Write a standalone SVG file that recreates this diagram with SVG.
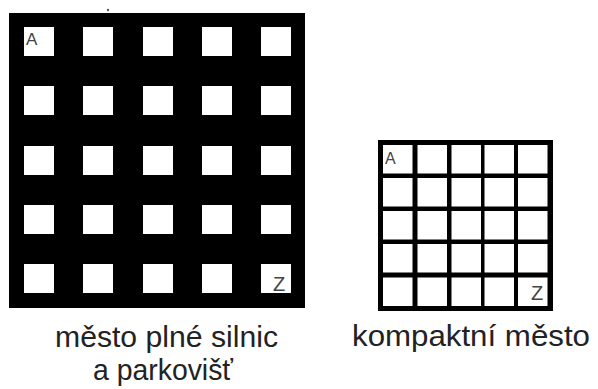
<svg xmlns="http://www.w3.org/2000/svg" width="598" height="389" viewBox="0 0 598 389">
<style>
.cell{fill:#fff}
.lbl{font-family:"Liberation Sans",Arial,sans-serif;fill:#444}
.cap{font-family:"Liberation Sans",Arial,sans-serif;font-size:29px;fill:#222;text-anchor:middle}
</style>
<rect width="598" height="389" fill="#fff"/>
<circle cx="108" cy="10" r="1.2" fill="#557"/>
<g id="big-grid">
<rect x="9" y="13" width="296" height="295" fill="#000"/>
<g class="cell">
<rect x="24" y="27" width="30" height="29"/><rect x="83" y="27" width="30" height="29"/><rect x="143" y="27" width="30" height="29"/><rect x="202" y="27" width="30" height="29"/><rect x="261" y="27" width="30" height="29"/>
<rect x="24" y="86" width="30" height="29"/><rect x="83" y="86" width="30" height="29"/><rect x="143" y="86" width="30" height="29"/><rect x="202" y="86" width="30" height="29"/><rect x="261" y="86" width="30" height="29"/>
<rect x="24" y="146" width="30" height="29"/><rect x="83" y="146" width="30" height="29"/><rect x="143" y="146" width="30" height="29"/><rect x="202" y="146" width="30" height="29"/><rect x="261" y="146" width="30" height="29"/>
<rect x="24" y="205" width="30" height="29"/><rect x="83" y="205" width="30" height="29"/><rect x="143" y="205" width="30" height="29"/><rect x="202" y="205" width="30" height="29"/><rect x="261" y="205" width="30" height="29"/>
<rect x="24" y="264" width="30" height="29"/><rect x="83" y="264" width="30" height="29"/><rect x="143" y="264" width="30" height="29"/><rect x="202" y="264" width="30" height="29"/><rect x="261" y="264" width="30" height="29"/>
</g>
<text class="lbl" x="26" y="45" font-size="17">A</text>
<text class="lbl" x="273" y="291" font-size="20">Z</text>
</g>
<g id="small-grid">
<rect x="378" y="140" width="175" height="171" fill="#000"/>
<g class="cell">
<rect x="383" y="145" width="29.5" height="28.5"/><rect x="417.5" y="145" width="29.5" height="28.5"/><rect x="451.5" y="145" width="29.5" height="28.5"/><rect x="484.5" y="145" width="29.5" height="28.5"/><rect x="518" y="145" width="29.5" height="28.5"/>
<rect x="383" y="178" width="29.5" height="28.5"/><rect x="417.5" y="178" width="29.5" height="28.5"/><rect x="451.5" y="178" width="29.5" height="28.5"/><rect x="484.5" y="178" width="29.5" height="28.5"/><rect x="518" y="178" width="29.5" height="28.5"/>
<rect x="383" y="211" width="29.5" height="28.5"/><rect x="417.5" y="211" width="29.5" height="28.5"/><rect x="451.5" y="211" width="29.5" height="28.5"/><rect x="484.5" y="211" width="29.5" height="28.5"/><rect x="518" y="211" width="29.5" height="28.5"/>
<rect x="383" y="244" width="29.5" height="28.5"/><rect x="417.5" y="244" width="29.5" height="28.5"/><rect x="451.5" y="244" width="29.5" height="28.5"/><rect x="484.5" y="244" width="29.5" height="28.5"/><rect x="518" y="244" width="29.5" height="28.5"/>
<rect x="383" y="277.5" width="29.5" height="28.5"/><rect x="417.5" y="277.5" width="29.5" height="28.5"/><rect x="451.5" y="277.5" width="29.5" height="28.5"/><rect x="484.5" y="277.5" width="29.5" height="28.5"/><rect x="518" y="277.5" width="29.5" height="28.5"/>
</g>
<text class="lbl" x="385" y="164" font-size="16">A</text>
<text class="lbl" x="531" y="300" font-size="20">Z</text>
</g>
<g id="captions">
<text class="cap" x="166.5" y="347" textLength="223" lengthAdjust="spacingAndGlyphs">město plné silnic</text>
<text class="cap" x="163" y="380" textLength="140" lengthAdjust="spacingAndGlyphs">a parkovišť</text>
<text class="cap" x="471" y="346" textLength="238" lengthAdjust="spacingAndGlyphs">kompaktní město</text>
</g>
</svg>
